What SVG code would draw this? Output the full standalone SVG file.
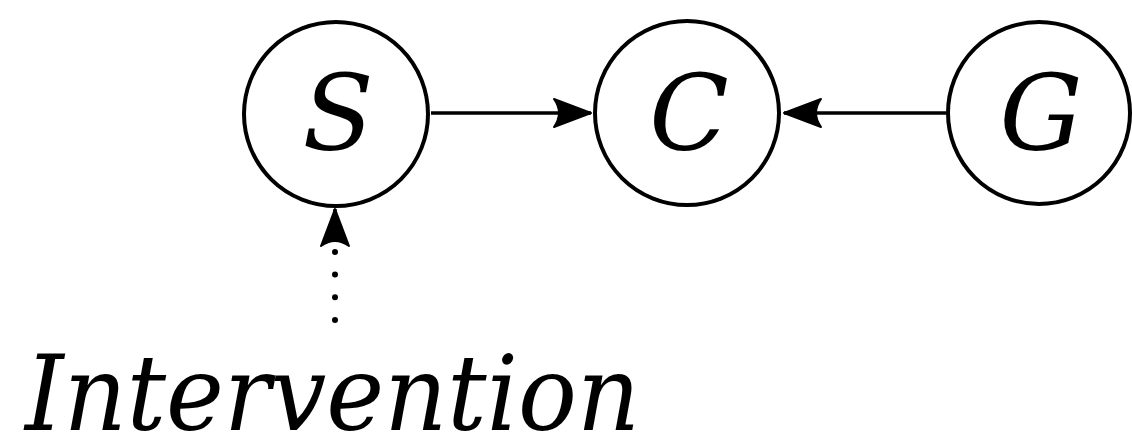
<svg xmlns="http://www.w3.org/2000/svg" width="1132" height="439" viewBox="0 0 1132 439">
<style>
.node{fill:#fff;stroke:#000;stroke-width:4}
.lbl{font-family:'DejaVu Serif',serif;font-style:italic;font-size:104px;fill:#000;text-anchor:middle}
.edge{stroke:#000;stroke-width:3.5;fill:none}
.dot{stroke:#000;stroke-width:6;stroke-linecap:round;stroke-dasharray:0 22.7;fill:none}
</style>
<defs>
<marker id="arr" markerUnits="userSpaceOnUse" markerWidth="50" markerHeight="40" viewBox="-42 -20 46 40" refX="0" refY="0" orient="auto" overflow="visible">
<path d="M0,0 L-37,-14 Q-27,0 -37,14 Z" fill="#000" stroke="#000" stroke-width="2" stroke-linejoin="round"/>
</marker>
</defs>
<rect width="1132" height="439" fill="#fff"/>
<g id="connectors">
<line class="edge" x1="431" y1="113" x2="591" y2="113" marker-end="url(#arr)"/>
<line class="edge" x1="946" y1="113" x2="784" y2="113" marker-end="url(#arr)"/>
<line class="dot" x1="335" y1="320" x2="335" y2="218"/>
<line class="edge" x1="335" y1="240" x2="335" y2="209" stroke-width="0" marker-end="url(#arr)"/>
</g>
<g id="node-S">
<circle class="node" cx="336" cy="114" r="92"/>
<text class="lbl" x="338" y="150">S</text>
</g>
<g id="node-C">
<circle class="node" cx="687" cy="113" r="92"/>
<text class="lbl" x="689" y="150">C</text>
</g>
<g id="node-G">
<circle class="node" cx="1039" cy="113" r="91"/>
<text class="lbl" x="1041" y="150">G</text>
</g>
<g id="label-intervention">
<text class="lbl" x="25" y="430" style="text-anchor:start;font-size:104px" textLength="615" lengthAdjust="spacingAndGlyphs">Intervention</text>
</g>
</svg>
